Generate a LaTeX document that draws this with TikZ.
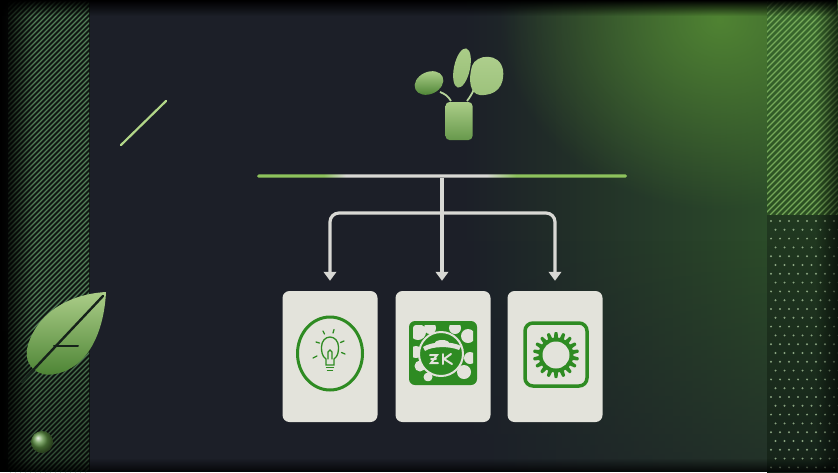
\documentclass[tikz,border=0pt]{standalone}
\usetikzlibrary{arrows.meta,fadings}
\definecolor{bg}{HTML}{1C1F28}
\definecolor{leafhi}{HTML}{ABCD88}
\definecolor{leaflo}{HTML}{4A8232}
\definecolor{iconG}{HTML}{2E8B22}
\definecolor{cardF}{HTML}{E3E3DB}
\definecolor{wireC}{HTML}{D8D8D4}
\definecolor{barG}{HTML}{8DC25C}
\definecolor{glow}{HTML}{548A34}
\definecolor{greenwash}{HTML}{2C4C2A}
\definecolor{stripeC}{HTML}{5E9464}
\definecolor{stripeR}{HTML}{86BC66}
\definecolor{bandbg}{HTML}{111714}
\definecolor{rband}{HTML}{3A6A2E}
\definecolor{rbandlo}{HTML}{16241A}
\definecolor{dotC}{HTML}{A6C29A}
\definecolor{accent}{HTML}{B2D688}
\definecolor{vein}{HTML}{16221A}
\definecolor{stemC}{HTML}{B7D49B}
\tikzfading[name=faderight, left color=transparent!0, right color=transparent!100]
\tikzfading[name=fadeleft, left color=transparent!100, right color=transparent!0]
\tikzfading[name=fadedown, top color=transparent!0, bottom color=transparent!100]
\tikzfading[name=fadeup, top color=transparent!100, bottom color=transparent!0]
\tikzfading[name=softspot, inner color=transparent!0, outer color=transparent!100]
\pgfdeclarehorizontalshading{barshade}{100bp}{color(0bp)=(barG); color(25bp)=(barG); color(34bp)=(barG); color(37bp)=(wireC); color(56bp)=(wireC); color(60bp)=(barG); color(75bp)=(barG); color(100bp)=(barG)}
\tikzset{
  card/.style={draw=none, fill=cardF, rounded corners=7pt, minimum width=95pt, minimum height=131pt, inner sep=0pt},
  wire/.style={draw=wireC, line width=3.2pt},
  tip/.style={-{Triangle[length=9pt,width=12.5pt]}, shorten >=10pt},
  barline/.style={draw=none, shading=barshade, minimum width=370pt, minimum height=3.4pt, inner sep=0pt, rounded corners=1.7pt},
  stripe/.style={draw=stripeC, line width=1.1pt},
  icon/.style={draw=iconG},
  leafshade/.style={top color=leafhi, bottom color=leaflo},
}
\begin{document}
\begin{tikzpicture}[x=1pt,y=-1pt]
\useasboundingbox (0,0) rectangle (838,472);
% base panel
\fill[bg] (0,0) rectangle (838,472);
% green wash towards the right and a soft glow along the top right
\begin{scope}
  \clip (90,0) rectangle (768,472);
  \fill[greenwash, path fading=fadeleft] (460,0) rectangle (768,472);
  \fill[greenwash] (767,0) rectangle (768,472);
  \fill[bg, opacity=0.6, path fading=fadeup] (460,240) rectangle (768,472);
  \fill[glow, opacity=0.9, path fading=softspot] (500,-170) rectangle (940,210);
\end{scope}
% left striped band
\fill[bandbg] (0,0) rectangle (90,472);
\begin{scope}
  \clip (8,0) rectangle (89,472);
  \foreach \i in {-480,-475,...,92}
    \draw[stripe, opacity=0.85] (\i,472) -- (\i+472,0);
\end{scope}
\fill[black, path fading=faderight] (0,0) rectangle (34,472);
\fill[black, opacity=0.45, path fading=fadeup] (0,330) rectangle (90,472);
% right band: stripes above, dots below
\shade[top color=rband, bottom color=rband!75!black] (767,0) rectangle (838,215);
\begin{scope}
  \clip (767,0) rectangle (838,215);
  \foreach \i in {-250,-244,...,842}
    \draw[draw=stripeR, line width=1.1pt, opacity=0.8] (\i,215) -- (\i+215,0);
\end{scope}
\shade[top color=rbandlo!70!rband, bottom color=rbandlo] (767,215) rectangle (838,472);
\foreach \c in {0,...,7}
  \foreach \r in {0,...,28} {
    \pgfmathsetmacro{\xx}{771+\c*9+mod(\r,2)*4.5}
    \pgfmathsetmacro{\yy}{221+\r*8.8}
    \fill[dotC, opacity=0.8] (\xx,\yy) circle (1.1);
  }
% edge vignettes
\fill[black, path fading=fadedown] (0,0) rectangle (838,16);
\fill[black, opacity=0.8, path fading=fadeup] (0,458) rectangle (838,472);
\fill[black, opacity=0.6, path fading=fadeleft] (815,0) rectangle (838,472);

% small diagonal accent
\draw[draw=accent, line width=2.2pt, line cap=round] (121,145) -- (166,101);

% leaf at the lower left
\shade[leafshade] (106,292) .. controls (70,294) and (38,312) .. (28,345)
  .. controls (22,365) and (38,378) .. (55,374)
  .. controls (88,368) and (104,332) .. (106,292) -- cycle;
\draw[draw=vein, line width=2.4pt, line cap=round] (22,382) -- (103,296);
\draw[draw=vein, line width=2pt, line cap=round] (54,346) -- (78,346);
% small ball
\shade[ball color=leaflo!80!leafhi] (42,442) circle (11);

% plant
\draw[draw=stemC, line width=1.8pt] (451,101) .. controls (448,96) and (445,94) .. (440,92);
\draw[draw=stemC, line width=1.8pt] (467,101) .. controls (470,97) and (472,94) .. (474,89);
\shade[leafshade, rotate around={25:(429,83)}] (429,83) ellipse (15 and 11);
\shade[top color=leafhi, bottom color=leafhi!80!leaflo, rotate around={-12:(462,68)}] (462,68) ellipse (8 and 20);
\shade[top color=leafhi!95!white, bottom color=leafhi!85!leaflo]
  (472,66) .. controls (476,54) and (500,52) .. (503,70)
  .. controls (505,86) and (496,96) .. (480,95)
  .. controls (470,94) and (468,80) .. (472,66) -- cycle;
\node[draw=none, top color=leafhi, bottom color=leaflo!70!leafhi, rounded corners=4pt,
      minimum width=27pt, minimum height=38pt, inner sep=0pt] (pot) at (459,121) {};

% header bar and connectors
\node[barline] (bar) at (442,176) {};
\node[card] (c1) at (330,356.5) {};
\node[card] (c2) at (443,356.5) {};
\node[card] (c3) at (555,356.5) {};
\coordinate (fork) at (442,213);
\draw[wire, tip] (bar.south) -- (bar.south |- c2.north);
\draw[wire, tip, rounded corners=9pt] (fork) -| (c1.north);
\draw[wire, tip, rounded corners=9pt] (fork) -| (c3.north);

% icon 1: light bulb in an oval
\draw[icon, line width=3pt] (330,353.5) ellipse (32.5 and 36.5);
\begin{scope}[icon, line width=1.3pt, line cap=round]
  \draw (326,365) -- (326,359) .. controls (322,356) and (321.5,352) .. (321.5,347)
    .. controls (321.5,341) and (325.5,337) .. (330,337)
    .. controls (334.5,337) and (338.5,341) .. (338.5,347)
    .. controls (338.5,352) and (338,356) .. (334,359) -- (334,365) -- cycle;
  \draw (326.5,367.5) -- (333.5,367.5);
  \draw (327.5,370.5) -- (332.5,370.5);
  \draw (328,359) -- (328,352) -- (330,350) -- (332,352) -- (332,359);
  \draw (323,331) -- (324.5,334);
  \draw (334,329.5) -- (333,333);
  \draw (316,342) -- (319.5,343);
  \draw (344,341) -- (340.5,342.5);
  \draw (313,358) -- (317,356);
  \draw (345,354) -- (341.5,352.5);
\end{scope}

% icon 2: emblem in a green square
\fill[iconG, rounded corners=6pt] (409,321) rectangle (477,385);
\begin{scope}
  \clip[rounded corners=3pt] (413,325) rectangle (473,381);
  \fill[cardF] (418,332) circle (8);
  \fill[cardF] (430,328) circle (6);
  \fill[cardF] (416,352) circle (6);
  \fill[cardF] (420,366) circle (5.5);
  \fill[cardF] (428,377) circle (4.5);
  \fill[cardF] (455,328) circle (6);
  \fill[cardF] (468,336) circle (7);
  \fill[cardF] (470,358) circle (6);
  \fill[cardF] (464,372) circle (7);
\end{scope}
\fill[iconG, draw=cardF, line width=2pt] (441,354) circle (22);
\fill[cardF] (423,347) .. controls (432,341) and (452,341) .. (461,346)
  -- (459,350) .. controls (450,346) and (432,346) .. (425,351) -- cycle;
\fill[cardF] (442,343) ellipse (7 and 3);
\begin{scope}[draw=cardF, line width=2pt, line cap=round]
  \draw (430,355) -- (437,355) -- (431,363) -- (438,363);
  \draw (431,359) -- (436,359);
  \draw (443,354) -- (443,364);
  \draw (451,354) -- (444,359) -- (452,364);
\end{scope}

% icon 3: gear in a rounded square
\draw[icon, line width=3.5pt, rounded corners=8pt] (525,323) rectangle (587,386);
\fill[iconG] (556,355) circle (17.5);
\foreach \a in {0,20,...,359}
  \fill[iconG, shift={(556,355)}, rotate=\a, rounded corners=0.8pt]
    (-2.2,16) -- (-1.5,23) -- (1.5,23) -- (2.2,16) -- cycle;
\fill[cardF] (556,355) circle (13.5);
\end{tikzpicture}
\end{document}
